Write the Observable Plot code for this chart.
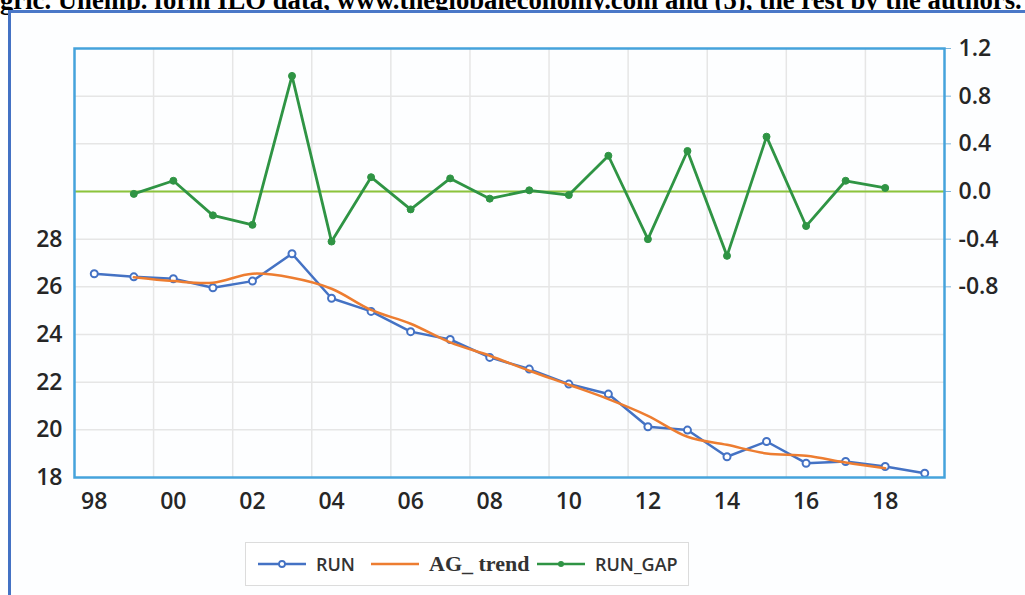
<!DOCTYPE html>
<html>
<head>
<meta charset="utf-8">
<script src="https://cdn.jsdelivr.net/npm/d3@7"></script>
<script src="https://cdn.jsdelivr.net/npm/@observablehq/plot@0.6"></script>
<style>
  html, body { margin: 0; padding: 0; background: #fff; }
  #wrap { position: relative; width: 1025px; height: 595px; overflow: hidden; background: #fff; }
  #title { position: absolute; left: 0; top: -12px; font: bold 24px "Liberation Serif", "Times New Roman", serif; line-height: 24px; white-space: nowrap; color: #000; }
  #box { position: absolute; left: 8px; top: 10px; width: 1100px; height: 700px; border-left: 3px solid #4472c4; border-top: 3px solid #4a78c8; background: #fdfeff; }
  #chart { position: absolute; left: 0; top: 0; }
  #legend { position: absolute; left: 245px; top: 542px; width: 444px; height: 44px; border: 1px solid #dcdcdc; box-sizing: border-box; background: #fff; }
  .li { position: absolute; top: 0; height: 42px; display: flex; align-items: center; }
  .lt { font: 600 18px "Open Sans", sans-serif; color: #333; }
  .ls { font: bold 22px "Liberation Serif", serif; color: #333; }
</style>
</head>
<body>
<div id="wrap">
  <div id="title">gric. Unemp. form ILO data, www.theglobaleconomy.com and (5), the rest by the authors.</div>
  <div id="box"></div>
  <div id="chart"></div>
  <div id="legend"></div>
</div>
<script>
// ---- data ----
const years = [1998,1999,2000,2001,2002,2003,2004,2005,2006,2007,2008,2009,2010,2011,2012,2013,2014,2015,2016,2017,2018,2019];
const run = [26.55,26.42,26.34,25.96,26.24,27.39,25.52,24.97,24.12,23.79,23.04,22.55,21.92,21.50,20.13,19.99,18.87,19.51,18.60,18.67,18.46,18.18];
const trendYears = [1999,2000,2001,2002,2003,2004,2005,2006,2007,2008,2009,2010,2011,2012,2013,2014,2015,2016,2017,2018];
const agTrend = [26.40,26.24,26.17,26.55,26.38,25.92,25.03,24.45,23.67,23.11,22.48,21.89,21.29,20.59,19.71,19.37,19.01,18.91,18.63,18.39];
const runGap = [-0.02,0.09,-0.20,-0.28,0.97,-0.42,0.12,-0.15,0.11,-0.06,0.01,-0.03,0.30,-0.40,0.34,-0.54,0.46,-0.29,0.09,0.03];
const xTicks = [1998,2000,2002,2004,2006,2008,2010,2012,2014,2016,2018];
const xTickLabels = ["98","00","02","04","06","08","10","12","14","16","18"];
const leftTicks = [18,20,22,24,26,28];
const leftGrid = [20,22,24,26,28,30,32,34];
const gapTicks = [-0.8,-0.4,0.0,0.4,0.8,1.2];
const seriesNames = ["RUN","AG_ trend","RUN_GAP"];

// right axis (RUN_GAP) mapped onto the left scale: 0 -> 30, 0.4 -> 32
const toLeft = v => 30 + 5 * v;

const C = { run: "#4472c4", trend: "#ed7d31", gap: "#2f9444", zero: "#8cc43c", frame: "#45a3dc", grid: "#e6e6e6" };

const runData = years.map((y, i) => ({ year: y, v: run[i] }));
const trendData = trendYears.map((y, i) => ({ year: y, v: agTrend[i] }));
const gapData = trendYears.map((y, i) => ({ year: y, v: toLeft(runGap[i]) }));
const xGrid = xTicks.map(t => t + 1.5).filter(v => v < 2019.5);

const chart = Plot.plot({
  width: 1025,
  height: 530,
  marginLeft: 74,
  marginRight: 81,
  marginTop: 48,
  marginBottom: 53,
  style: { background: "transparent", fontFamily: "'Open Sans', sans-serif", fontSize: "23px", color: "#262626", fontWeight: 600 },
  x: { domain: [1997.5, 2019.5] },
  y: { domain: [18, 36] },
  marks: [
    Plot.gridX(xGrid, { stroke: C.grid, strokeOpacity: 1, strokeWidth: 1.5 }),
    Plot.gridY(leftGrid, { stroke: C.grid, strokeOpacity: 1, strokeWidth: 1.5 }),
    Plot.ruleY([toLeft(0)], { stroke: C.zero, strokeWidth: 2 }),
    Plot.axisY(leftTicks, { anchor: "left", tickSize: 0, tickPadding: 12, label: null }),
    Plot.axisY(gapTicks.map(toLeft), { anchor: "right", tickSize: 6, tickPadding: 8, stroke: "#7fb6db", label: null,
      tickFormat: (d, i) => gapTicks[i].toFixed(1) }),
    Plot.axisX(xTicks, { anchor: "bottom", tickSize: 0, tickPadding: 15, label: null,
      tickFormat: (d, i) => xTickLabels[i] }),
    Plot.lineY(runData, { x: "year", y: "v", stroke: C.run, strokeWidth: 2.5 }),
    Plot.dot(runData, { x: "year", y: "v", r: 3.5, stroke: C.run, strokeWidth: 2, fill: "white" }),
    Plot.lineY(trendData, { x: "year", y: "v", stroke: C.trend, strokeWidth: 2.5, curve: "catmull-rom" }),
    Plot.lineY(gapData, { x: "year", y: "v", stroke: C.gap, strokeWidth: 2.8 }),
    Plot.dot(gapData, { x: "year", y: "v", r: 3.5, fill: C.gap, stroke: C.gap, strokeWidth: 1 }),
    Plot.frame({ stroke: C.frame, strokeWidth: 2.5 })
  ]
});
document.getElementById("chart").appendChild(chart);

// fit the cut-off source line to the page width
const title = document.getElementById("title");
const tw = title.getBoundingClientRect().width;
title.style.fontSize = (24 * 1022 / tw) + "px";

// legend
const legend = document.getElementById("legend");
const items = [
  { name: seriesNames[0], color: C.run, marker: "open", left: 11, cls: "lt" },
  { name: seriesNames[1], color: C.trend, marker: null, left: 124, cls: "ls" },
  { name: seriesNames[2], color: C.gap, marker: "filled", left: 290, cls: "lt" }
];
for (const it of items) {
  const d = document.createElement("div");
  d.className = "li";
  d.style.left = it.left + "px";
  let mk = "";
  if (it.marker === "open") mk = `<circle cx="25" cy="10" r="3" fill="white" stroke="${it.color}" stroke-width="1.8"/>`;
  if (it.marker === "filled") mk = `<circle cx="25" cy="10" r="3" fill="${it.color}"/>`;
  d.innerHTML = `<svg width="50" height="20"><line x1="1" x2="49" y1="10" y2="10" stroke="${it.color}" stroke-width="2.5"/>${mk}</svg><span class="${it.cls}" style="margin-left:9px">${it.name}</span>`;
  legend.appendChild(d);
}
</script>
</body>
</html>
